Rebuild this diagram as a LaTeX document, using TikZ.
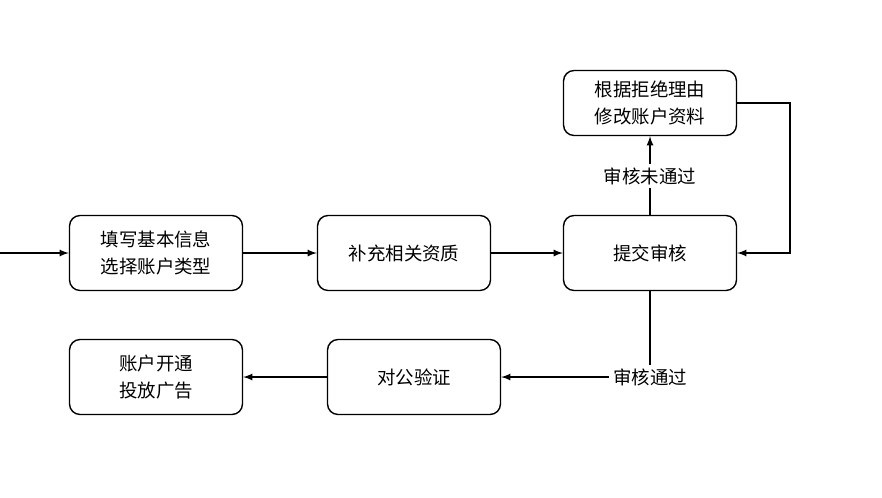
\documentclass[tikz,border=0pt]{standalone}
\usepackage{fontspec}
\setmainfont{Noto Sans CJK SC}
\usetikzlibrary{positioning}
\tikzset{
  box/.style={draw, thick, rounded corners=6pt, minimum width=3.46cm, minimum height=1.5cm, align=center, font=\fontsize{10.5}{15}\selectfont},
  lbl/.style={font=\fontsize{10.5}{15}\selectfont, inner sep=2pt},
  arr/.style={thick, -latex}
}
\begin{document}
\begin{tikzpicture}[x=0.02cm, y=-0.02cm]
    \useasboundingbox (0,0) rectangle (882,497);

    % Main row
    \coordinate (start) at (0,253);
    \node[box] (info) at (156,253) {填写基本信息\\选择账户类型};
    \node[box] (qual) at (404,253) {补充相关资质};
    \node[box] (submit) at (650,253) {提交审核};

    % Rejection branch
    \node[box, minimum height=1.3cm] (fix) at (650,103) {根据拒绝理由\\修改账户资料};
    \node[lbl] (fail) at (650,176) {审核未通过};

    % Approval branch
    \node[lbl] (pass) at (650,377) {审核通过};
    \node[box] (verify) at (414,377) {对公验证};
    \node[box] (open) at (156,377) {账户开通\\投放广告};

    \draw[arr] (start) -- (info);
    \draw[arr] (info) -- (qual);
    \draw[arr] (qual) -- (submit);
    \draw[thick] (submit) -- (fail);
    \draw[arr] (fail) -- (fix);
    \draw[arr] (fix.east) -- ++(53,0) |- (submit.east);
    \draw[thick] (submit) -- (pass);
    \draw[arr] (pass) -- (verify);
    \draw[arr] (verify) -- (open);
\end{tikzpicture}
\end{document}
